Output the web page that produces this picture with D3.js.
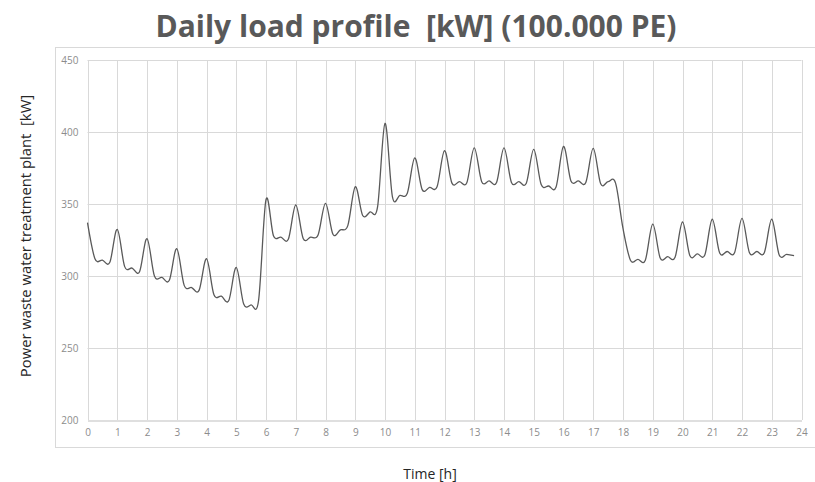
<!DOCTYPE html>
<html>
<head>
<meta charset="utf-8">
<script src="https://cdn.jsdelivr.net/npm/d3@7"></script>
<style>
  body { margin: 0; background: #fff; }
  svg { display: block; }
</style>
</head>
<body>
<script>
// Chart size
const width = 815;
const height = 482;

// Time of day in hours (quarter-hour steps)
var hours = [
  0, 0.25, 0.5, 0.75, 1, 1.25, 1.5, 1.75, 2, 2.25, 2.5, 2.75,
  3, 3.25, 3.5, 3.75, 4, 4.25, 4.5, 4.75, 5, 5.25, 5.5, 5.75,
  6, 6.25, 6.5, 6.75, 7, 7.25, 7.5, 7.75, 8, 8.25, 8.5, 8.75,
  9, 9.25, 9.5, 9.75, 10, 10.25, 10.5, 10.75, 11, 11.25, 11.5, 11.75,
  12, 12.25, 12.5, 12.75, 13, 13.25, 13.5, 13.75, 14, 14.25, 14.5, 14.75,
  15, 15.25, 15.5, 15.75, 16, 16.25, 16.5, 16.75, 17, 17.25, 17.5, 17.75,
  18, 18.25, 18.5, 18.75, 19, 19.25, 19.5, 19.75, 20, 20.25, 20.5, 20.75,
  21, 21.25, 21.5, 21.75, 22, 22.25, 22.5, 22.75, 23, 23.25, 23.5, 23.75
];

// Power of the plant [kW]
var power = [
  337, 312, 311, 309.5, 332.4, 306.5, 305.5, 303, 326, 300, 299, 297,
  319, 293.5, 292, 290, 312, 287, 286, 283, 306, 280.5, 280, 283,
  353, 328, 327, 325.5, 349.3, 326, 327, 328.5, 350.5, 329, 332, 335,
  362, 342, 344.5, 348, 406, 355, 356, 357.5, 382, 360, 361.5, 362,
  387, 364.5, 365.5, 364.8, 389, 365.5, 366, 365, 389, 365, 365.5, 364.4,
  388, 363.5, 362.5, 361.8, 390, 366, 366, 365, 388.6, 364, 365.5, 364.5,
  333, 311, 311.6, 311, 336, 312.5, 313.4, 313, 337.5, 314, 315.3, 314.6,
  339.4, 316, 317, 316.2, 340, 316.2, 317, 316.2, 339.4, 314.6, 315, 314.1
];

// Axis ticks
var xTicks = d3.range(0, 25, 1);
var yTicks = [200, 250, 300, 350, 400, 450];

var svg = d3.select("body")
    .append("svg")
    .attr("width", width)
    .attr("height", height);

// Plot area frame
svg.append("rect")
    .attr("x", 55.5)
    .attr("y", 47.5)
    .attr("width", 800)
    .attr("height", 400)
    .attr("fill", "none")
    .attr("stroke", "#d9d9d9");

// Scales
var x = d3.scaleLinear().domain([0, 24]).range([87.5, 801.5]);
var y = d3.scaleLinear().domain([200, 450]).range([420, 60]);

// Gridlines
svg.append("g")
    .selectAll("line")
    .data(yTicks.slice(1))
    .join("line")
    .attr("x1", x(0)).attr("x2", x(24))
    .attr("y1", d => Math.round(y(d)) + 0.5)
    .attr("y2", d => Math.round(y(d)) + 0.5)
    .attr("stroke", "#d9d9d9");
svg.append("g")
    .selectAll("line")
    .data(xTicks)
    .join("line")
    .attr("x1", d => Math.round(x(d)) + 0.5)
    .attr("x2", d => Math.round(x(d)) + 0.5)
    .attr("y1", y(450)).attr("y2", y(200))
    .attr("stroke", "#d9d9d9");

// Bottom axis
var xAxis = svg.append("g")
    .attr("transform", `translate(0, ${Math.round(y(200)) + 0.5})`)
    .call(d3.axisBottom(x).tickValues(xTicks).tickSize(0).tickPadding(8));
xAxis.select(".domain").attr("stroke", "#bfbfbf");
xAxis.selectAll("text")
    .attr("fill", "#8c8c8c")
    .style("font-family", "'Open Sans', sans-serif")
    .style("font-size", "10px");

// Left axis labels
var yAxis = svg.append("g")
    .attr("transform", `translate(${x(0)}, 0)`)
    .call(d3.axisLeft(y).tickValues(yTicks).tickSize(0).tickPadding(9));
yAxis.select(".domain").remove();
yAxis.selectAll("text")
    .attr("fill", "#8c8c8c")
    .style("font-family", "'Open Sans', sans-serif")
    .style("font-size", "10px");

// Load curve
var line = d3.line()
    .x((d, i) => x(hours[i]))
    .y(d => y(d))
    .curve(d3.curveCardinal.tension(0));

svg.append("path")
    .datum(power)
    .attr("d", line)
    .attr("fill", "none")
    .attr("stroke", "#595959")
    .attr("stroke-width", 1.3);

// Titles
svg.append("text")
    .attr("x", 416)
    .attr("y", 37)
    .attr("text-anchor", "middle")
    .attr("fill", "#595959")
    .style("font-family", "'Open Sans', sans-serif")
    .style("font-weight", "bold")
    .style("font-size", "30px")
    .style("white-space", "pre")
    .text("Daily load profile  [kW] (100.000 PE)");

svg.append("text")
    .attr("transform", "translate(31, 236) rotate(-90)")
    .attr("text-anchor", "middle")
    .attr("fill", "#262626")
    .style("font-family", "'Open Sans', sans-serif")
    .style("font-size", "14.8px")
    .style("white-space", "pre")
    .text("Power waste water treatment plant  [kW]");

svg.append("text")
    .attr("x", 430)
    .attr("y", 479)
    .attr("text-anchor", "middle")
    .attr("fill", "#262626")
    .style("font-family", "'Open Sans', sans-serif")
    .style("font-size", "14px")
    .text("Time [h]");
</script>
</body>
</html>
